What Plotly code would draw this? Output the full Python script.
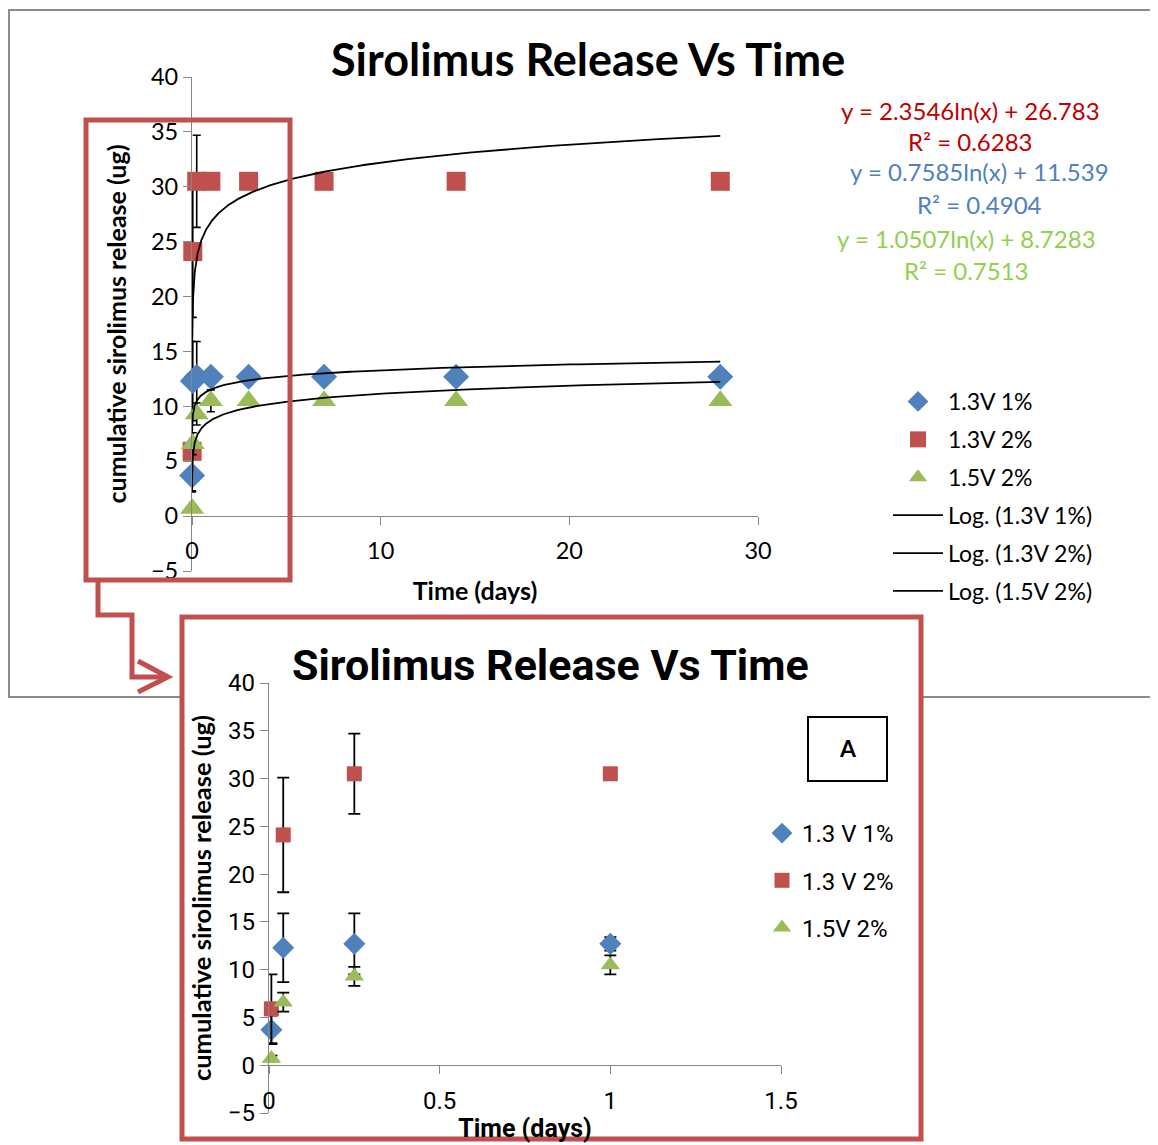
import numpy as np
import plotly.graph_objects as go

W, H = 1158, 1145
OFF = 8  # page body margin


def px(x):
    return (x - OFF) / W


def py(y):
    return 1 - (y - OFF) / H


# ---------------- data ----------------
time_days = [0.00694, 0.0417, 0.25, 1, 3, 7, 14, 28]
series_names = ["1.3V 1%", "1.3V 2%", "1.5V 2%"]
inset_names = ["1.3 V 1%", "1.3 V 2%", "1.5V 2%"]
release_13v_1pct = [3.7, 12.3, 12.7, 12.7, 12.7, 12.7, 12.7, 12.7]
release_13v_2pct = [5.9, 24.1, 30.5, 30.5, 30.5, 30.5, 30.5, 30.5]
release_15v_2pct = [0.7, 6.6, 9.3, 10.5, 10.5, 10.5, 10.5, 10.5]
err_13v_1pct = [1.5, 3.6, 3.2, 0.7, 0, 0, 0, 0]
err_13v_2pct = [3.6, 6.0, 4.2, 0.3, 0, 0, 0, 0]
err_15v_2pct = [0.3, 1.0, 1.0, 1.0, 0, 0, 0, 0]
fit_slope = [0.7585, 2.3546, 1.0507]
fit_intercept = [11.539, 26.783, 8.7283]
fit_r2 = [0.4904, 0.6283, 0.7513]
main_xticks = [0, 10, 20, 30]
inset_xticks = [0, 0.5, 1, 1.5]
y_ticks = [-5, 0, 5, 10, 15, 20, 25, 30, 35, 40]

release = [release_13v_1pct, release_13v_2pct, release_15v_2pct]
errors = [err_13v_1pct, err_13v_2pct, err_15v_2pct]
colors = ["#4F81BD", "#C0504D", "#9BBB59"]
eq_colors = ["#4F81BD", "#C00000", "#92D050"]
symbols = ["diamond", "square", "triangle-up"]
main_sizes = [20, 19, 21]
inset_sizes = [17, 15, 17]

FONT = "Lato, 'Open Sans', sans-serif"
NARROW = "Roboto, Lato, sans-serif"

fig = go.Figure()

# main chart markers
for i in range(3):
    fig.add_trace(go.Scatter(
        x=time_days, y=release[i], mode="markers", name=series_names[i],
        marker=dict(symbol=symbols[i], size=main_sizes[i], color=colors[i]),
        error_y=dict(type="data", array=errors[i], color="black", thickness=1.6, width=4),
        xaxis="x", yaxis="y", cliponaxis=False, legend="legend",
        legendgroup="m%d" % i,
    ))

# logarithmic trend lines (from the fitted equations shown on the chart)
xs = np.geomspace(min(time_days), max(time_days), 400)
for i in range(3):
    fig.add_trace(go.Scatter(
        x=xs, y=fit_slope[i] * np.log(xs) + fit_intercept[i], mode="lines",
        name="Log. (%s)" % series_names[i], line=dict(color="black", width=1.8),
        xaxis="x", yaxis="y", cliponaxis=False, legend="legend",
        legendgroup="t%d" % i,
    ))

# inset markers (first day only)
sel = [j for j, t in enumerate(time_days) if t <= 1.5]
for i in range(3):
    fig.add_trace(go.Scatter(
        x=[time_days[j] for j in sel], y=[release[i][j] for j in sel],
        mode="markers", name=inset_names[i],
        marker=dict(symbol=symbols[i], size=inset_sizes[i], color=colors[i]),
        error_y=dict(type="data", array=[errors[i][j] for j in sel], color="black",
                     thickness=1.8, width=6),
        xaxis="x2", yaxis="y2", cliponaxis=False, legend="legend2",
        legendgroup="i%d" % i,
    ))

axis_line = "#868686"

shapes = [
    # outer grey frame of the main chart
    dict(type="rect", xref="paper", yref="paper", x0=px(9), x1=px(1180), y0=py(697), y1=py(10),
         line=dict(color="#8C8C8C", width=2), fillcolor="rgba(0,0,0,0)", layer="below"),
    # inset frame (white, red border)
    dict(type="rect", xref="paper", yref="paper", x0=px(182), x1=px(921), y0=py(1139), y1=py(617),
         line=dict(color="#C0504D", width=5), fillcolor="white", layer="below"),
    # highlight box on main chart
    dict(type="rect", xref="paper", yref="paper", x0=px(86), x1=px(290), y0=py(580), y1=py(120),
         line=dict(color="#C0504D", width=5), fillcolor="rgba(0,0,0,0)", layer="above"),
    # elbow arrow
    dict(type="path", xref="paper", yref="paper",
         path="M %f %f L %f %f L %f %f L %f %f L %f %f" % (
             px(98), py(582), px(98), py(615), px(132), py(615), px(132), py(677), px(166), py(677)),
         line=dict(color="#C0504D", width=5), layer="above"),
    dict(type="path", xref="paper", yref="paper",
         path="M %f %f L %f %f L %f %f" % (px(138), py(661), px(168), py(677), px(138), py(692)),
         line=dict(color="#C0504D", width=5), layer="above"),
    # "A" box
    dict(type="rect", xref="paper", yref="paper", x0=px(808), x1=px(887), y0=py(781), y1=py(717),
         line=dict(color="black", width=2), fillcolor="white", layer="above"),
]

annotations = [
    dict(text="<b>Sirolimus Release Vs Time</b>", x=px(588), y=py(59), xref="paper", yref="paper",
         xanchor="center", yanchor="middle",
         showarrow=False, font=dict(family=FONT, size=45, color="black")),
    dict(text="<b>Sirolimus Release Vs Time</b>", x=px(550), y=py(665), xref="paper", yref="paper",
         xanchor="center", yanchor="middle",
         showarrow=False, font=dict(family=NARROW, size=43, color="black")),
    dict(text="<b>A</b>", x=px(848), y=py(748), xref="paper", yref="paper",
         xanchor="center", yanchor="middle",
         showarrow=False, font=dict(family=FONT, size=23, color="black")),
]
eq_x = [979, 970, 966]
eq_y = [172, 110, 238]
for i in range(3):
    annotations.append(dict(
        text="y = %sln(x) + %s" % (fit_slope[i], fit_intercept[i]), x=px(eq_x[i]), y=py(eq_y[i]),
        xref="paper", yref="paper", xanchor="center", yanchor="middle", showarrow=False,
        font=dict(family=FONT, size=24, color=eq_colors[i])))
    annotations.append(dict(
        text="R² = %s" % fit_r2[i], x=px(eq_x[i]), y=py(eq_y[i] + 32),
        xref="paper", yref="paper", xanchor="center", yanchor="middle", showarrow=False,
        font=dict(family=FONT, size=24, color=eq_colors[i])))

common = dict(ticks="outside", ticklen=8, tickcolor=axis_line, showline=True, linecolor=axis_line,
              linewidth=1.3, showgrid=False, zeroline=False, automargin=False)

fig.update_layout(
    width=W, height=H, autosize=False,
    margin=dict(l=0, r=0, t=0, b=0, autoexpand=False),
    paper_bgcolor="white", plot_bgcolor="rgba(0,0,0,0)",
    font=dict(family=FONT, color="black"),
    xaxis=dict(domain=[px(192), px(758)], range=[0, 30], anchor="free", position=py(516),
               tickvals=main_xticks, tickfont=dict(size=23.5), ticklabelstandoff=6,
               title=dict(text="<b>Time (days)</b>", font=dict(size=25), standoff=19), **common),
    yaxis=dict(domain=[py(571), py(77)], range=[-5, 40], anchor="x",
               tickvals=y_ticks, tickfont=dict(size=23.5),
               title=dict(text="<b>cumulative sirolimus release (ug)</b>", font=dict(size=25), standoff=17),
               **common),
    xaxis2=dict(domain=[px(269), px(781)], range=[0, 1.5], anchor="free", position=py(1065),
                tickvals=inset_xticks, tickfont=dict(size=24, family=NARROW), ticklabelstandoff=6,
                title=dict(text="<b>Time (days)</b>", font=dict(size=25, family=NARROW), standoff=5),
                **common),
    yaxis2=dict(domain=[py(1113), py(683)], range=[-5, 40], anchor="x2",
                tickvals=y_ticks, tickfont=dict(size=24, family=NARROW),
                title=dict(text="<b>cumulative sirolimus release (ug)</b>", font=dict(size=25.5, family=FONT),
                           standoff=8),
                **common),
    legend=dict(x=px(888), y=py(380), xanchor="left", yanchor="top", itemwidth=50,
                font=dict(size=23), traceorder="grouped", tracegroupgap=5,
                bgcolor="rgba(0,0,0,0)"),
    legend2=dict(x=px(762), y=py(811), xanchor="left", yanchor="top", itemwidth=30,
                 font=dict(size=24, family=NARROW), traceorder="grouped", tracegroupgap=13,
                 bgcolor="rgba(0,0,0,0)"),
    shapes=shapes,
    annotations=annotations,
    showlegend=True,
)

fig.write_html("out.html")
